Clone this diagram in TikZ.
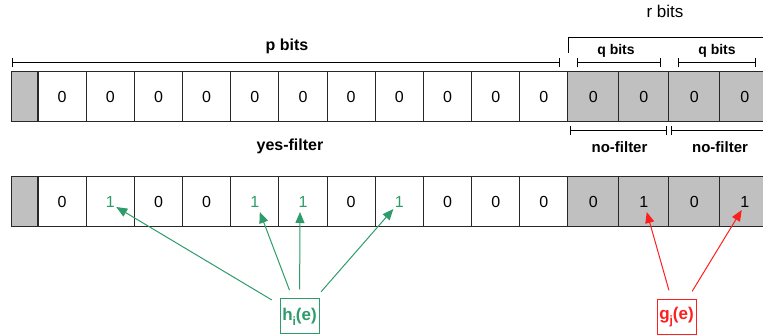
\documentclass[tikz,border=0pt]{standalone}
\usepackage{fontspec}
\setmainfont{Liberation Sans}
\usetikzlibrary{
  arrows.meta,
  matrix,
  positioning
}
\definecolor{hgreen}{RGB}{46,155,106}
\definecolor{gred}{RGB}{255,30,30}
\definecolor{cellgray}{RGB}{192,192,192}
\definecolor{cellline}{RGB}{40,40,40}
\newcommand{\lowsub}[1]{\raisebox{-0.55ex}{\fontsize{12}{14}\selectfont #1}}

\begin{document}
\begin{tikzpicture}[
      x=1pt,y=-1pt,
      bit/.style={
         rectangle,
         draw=cellline,
         line width=1pt,
         minimum width=48.18pt,
         minimum height=50pt,
         inner sep=0pt,
         outer sep=0pt,
         font=\fontsize{16}{18}\selectfont
      },
      lead/.style={bit, fill=cellgray, minimum width=27pt},
      rest/.style={bit, fill=cellgray, minimum width=50.5pt},
      hbit/.style={bit, text=hgreen},
      tag/.style={font=\bfseries\fontsize{16}{19}\selectfont},
      ftag/.style={font=\bfseries\fontsize{15}{18}\selectfont},
      qtag/.style={font=\bfseries\fontsize{14}{17}\selectfont},
      span/.style={draw=black, line width=1pt, {Bar[width=9pt]}-{Bar[width=9pt]}},
      fbox/.style={
         rectangle,
         line width=1pt,
         fill=white,
         minimum width=39pt,
         minimum height=35pt,
         inner sep=2pt,
         font=\bfseries\fontsize{17}{20}\selectfont
      },
      link/.style={line width=1pt, -{Triangle[length=11pt,width=9pt]}, shorten <=9pt},
      hlink/.style={link, draw=hgreen},
      glink/.style={link, draw=gred}
    ]
    \useasboundingbox (0,0) rectangle (763,336);
    \clip (0,0) rectangle (763,336);
    \matrix (bits) [anchor=north west, inner sep=0pt, outer sep=0pt,
                    column sep=-1pt, row sep=54pt, nodes={anchor=center}] at (10.5,71.5) {
\node (t0) [lead] {}; & \node (t1) [bit] {0}; & \node (t2) [bit] {0}; & \node (t3) [bit] {0}; & \node (t4) [bit] {0}; & \node (t5) [bit] {0}; & \node (t6) [bit] {0}; & \node (t7) [bit] {0}; & \node (t8) [bit] {0}; & \node (t9) [bit] {0}; & \node (t10) [bit] {0}; & \node (t11) [bit] {0}; & \node (t12) [rest] {0}; & \node (t13) [rest] {0}; & \node (t14) [rest] {0}; & \node (t15) [rest] {0};\\
\node (b0) [lead] {}; & \node (b1) [bit] {0}; & \node (b2) [hbit] {1}; & \node (b3) [bit] {0}; & \node (b4) [bit] {0}; & \node (b5) [hbit] {1}; & \node (b6) [hbit] {1}; & \node (b7) [bit] {0}; & \node (b8) [hbit] {1}; & \node (b9) [bit] {0}; & \node (b10) [bit] {0}; & \node (b11) [bit] {0}; & \node (b12) [rest] {0}; & \node (b13) [rest] {1}; & \node (b14) [rest] {0}; & \node (b15) [rest] {1};\\
    };
    % labels above and between the rows
    \node (pbits) [tag] at (287,46.5) {p bits};
    \node (rbits) [font=\fontsize{17}{20}\selectfont] at (665,11) {r bits};
    \node (qbits1) [qtag] at (616,51) {q bits};
    \node (qbits2) [qtag] at (717,51) {q bits};
    \node (yes) [tag] at (290,146.5) {yes-filter};
    \node (no1) [ftag] at (619.5,147) {no-filter};
    \node (no2) [ftag] at (720,147) {no-filter};
    % brackets
    \draw[span] (12,63) -- (560,63);
    \draw[span] (577,63) -- (661,63);
    \draw[span] (678,63) -- (756,63);
    \draw[line width=1pt] (568,53) |- (775,38);
    \draw[span] (570,131) -- (667,131);
    \draw[span] (671,131) -- (770,131);
    % hash functions
    \node (hi) [fbox, draw=hgreen, text=hgreen] at (299.5,316.5) {h\lowsub{i}(e)};
    \node (gj) [fbox, draw=gred, text=gred] at (676.5,317) {g\lowsub{j}(e)};
    \draw[hlink] (hi) -- ([xshift=6pt,yshift=-5pt]b2.center);
    \draw[hlink] (hi) -- ([xshift=5pt,yshift=-10pt]b5.center);
    \draw[hlink] (hi) -- ([xshift=-3pt,yshift=-10pt]b6.center);
    \draw[hlink] (hi) -- ([xshift=-6pt,yshift=-7pt]b8.center);
    \draw[glink] (gj) -- ([xshift=3pt,yshift=-10pt]b13.center);
    \draw[glink] (gj) -- ([xshift=-3pt,yshift=-8pt]b15.center);
\end{tikzpicture}
\end{document}
